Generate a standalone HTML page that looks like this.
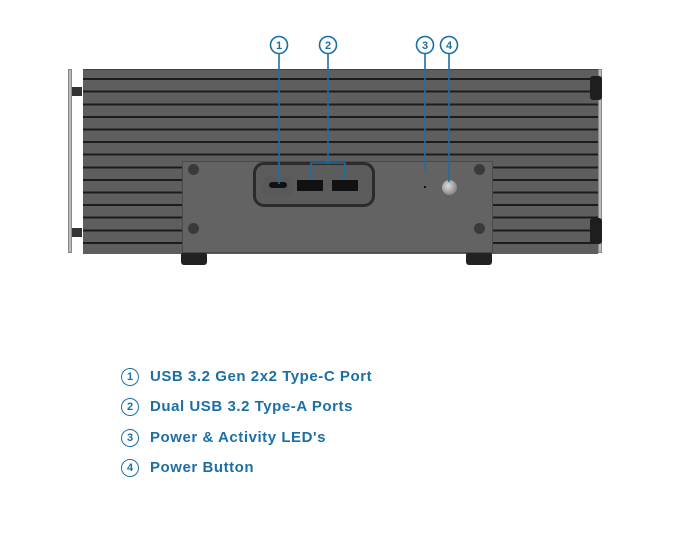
<!DOCTYPE html><html><head><style>
body{margin:0;width:683px;height:551px;background:#fff;position:relative;font-family:"Liberation Sans",sans-serif;overflow:hidden}
.a{position:absolute}
.leg{position:absolute;left:121px;color:#1b6fa6;font-weight:bold;font-size:15px;letter-spacing:0.55px}
.leg span{display:inline-block;width:16px;height:16px;border:1.5px solid #1b6fa6;border-radius:50%;font-size:11px;text-align:center;line-height:16px;margin-right:11px;vertical-align:1px;box-sizing:content-box;letter-spacing:0}
</style></head><body>
<div class="a" style="left:68px;top:69px;width:4px;height:184px;background:#bbb;border:1px solid #888;box-sizing:border-box"></div>
<div class="a" style="left:72px;top:87px;width:10px;height:9px;background:#333"></div>
<div class="a" style="left:72px;top:228px;width:10px;height:9px;background:#333"></div>
<div class="a" style="left:598px;top:69px;width:4px;height:184px;background:#bbb;border:1px solid #888;box-sizing:border-box"></div>
<div class="a" style="left:83px;top:69px;width:515px;height:184px;background:repeating-linear-gradient(to bottom,#5e5e5e 0,#5e5e5e 10.6px,#1c1c1c 10.6px,#1c1c1c 12.6px);background-position:0 -2.5px;border-top:1px solid #444"></div>
<div class="a" style="left:590px;top:76px;width:12px;height:24px;background:#1e1e1e;border-radius:3px"></div>
<div class="a" style="left:590px;top:218px;width:12px;height:26px;background:#1e1e1e;border-radius:3px"></div>
<div class="a" style="left:181px;top:252px;width:26px;height:13px;background:#222;border-radius:3px"></div>
<div class="a" style="left:466px;top:252px;width:26px;height:13px;background:#222;border-radius:3px"></div>
<div class="a" style="left:182px;top:161px;width:311px;height:92px;background:#636363;border:1px solid #4a4a4a;box-sizing:border-box"></div>
<div class="a" style="left:188px;top:164px;width:11px;height:11px;border-radius:50%;background:#3a3a3a"></div>
<div class="a" style="left:188px;top:223px;width:11px;height:11px;border-radius:50%;background:#3a3a3a"></div>
<div class="a" style="left:474px;top:164px;width:11px;height:11px;border-radius:50%;background:#3a3a3a"></div>
<div class="a" style="left:474px;top:223px;width:11px;height:11px;border-radius:50%;background:#3a3a3a"></div>
<div class="a" style="left:253px;top:162px;width:122px;height:45px;border:3px solid #2b2b2b;border-radius:11px;box-sizing:border-box;background:#5c5c5c"></div>
<div class="a" style="left:263px;top:177px;width:30px;height:18px;background:#595959;border-radius:3px"></div>
<div class="a" style="left:269px;top:182px;width:18px;height:6px;background:#111;border-radius:3px"></div>
<div class="a" style="left:297px;top:180px;width:26px;height:11px;background:#111"></div>
<div class="a" style="left:332px;top:180px;width:26px;height:11px;background:#111"></div>
<div class="a" style="left:424px;top:186px;width:2px;height:2px;background:#111"></div>
<div class="a" style="left:442px;top:180px;width:15px;height:15px;border-radius:50%;background:radial-gradient(circle at 40% 40%,#ddd,#888 70%,#555)"></div>
<svg class="a" style="left:0;top:0" width="683" height="300">
<g stroke="#1b6fa6" stroke-width="1.6" fill="none">
<line x1="279" y1="54" x2="279" y2="184"/>
<path d="M328 54V163M311 180V163H345V180"/>
<line x1="425" y1="54" x2="425" y2="170"/>
<line x1="449" y1="54" x2="449" y2="182"/>
<circle cx="279" cy="45" r="8.5"/><circle cx="328" cy="45" r="8.5"/><circle cx="425" cy="45" r="8.5"/><circle cx="449" cy="45" r="8.5"/>
</g>
<g fill="#1b6fa6" font-family="Liberation Sans" font-size="11" font-weight="bold" text-anchor="middle">
<text x="279" y="49">1</text><text x="328" y="49">2</text><text x="425" y="49">3</text><text x="449" y="49">4</text></g>
</svg>
<div class="leg" style="top:368px"><span>1</span>USB 3.2 Gen 2x2 Type-C Port</div>
<div class="leg" style="top:398px"><span>2</span>Dual USB 3.2 Type-A Ports</div>
<div class="leg" style="top:429px"><span>3</span>Power &amp; Activity LED's</div>
<div class="leg" style="top:459px"><span>4</span>Power Button</div>
</body></html>
